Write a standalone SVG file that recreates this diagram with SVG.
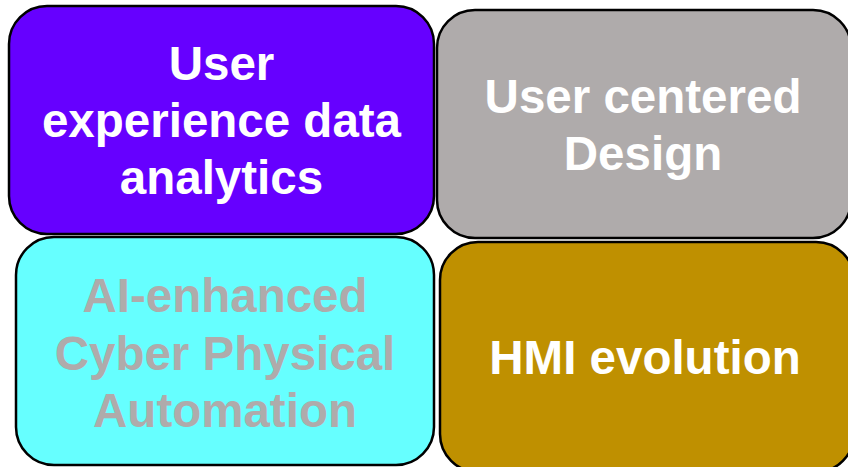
<svg xmlns="http://www.w3.org/2000/svg" width="848" height="467" viewBox="0 0 848 467">
<style>
.box{stroke:#000;stroke-width:2.5}
.t{font-family:"Liberation Sans",Arial,sans-serif;font-weight:bold;font-size:47.5px;text-anchor:middle}
.w{fill:#fff}
.g{fill:#AFABAB}
</style>
<rect width="848" height="467" fill="#fff"/>
<g id="node-ux-analytics">
<rect class="box" x="9" y="6" width="425" height="228" rx="38" fill="#6600FF"/>
<text class="t w" x="221.5" y="80">User</text>
<text class="t w" x="221.5" y="137">experience data</text>
<text class="t w" x="221.5" y="194">analytics</text>
</g>
<g id="node-ucd">
<rect class="box" x="437" y="10" width="414" height="228" rx="38" fill="#AFABAB"/>
<text class="t w" x="643" y="113">User centered</text>
<text class="t w" x="643" y="170">Design</text>
</g>
<g id="node-ai-cps">
<rect class="box" x="16" y="237" width="418" height="228" rx="38" fill="#66FFFF"/>
<text class="t g" x="225" y="312">AI-enhanced</text>
<text class="t g" x="225" y="370">Cyber Physical</text>
<text class="t g" x="225" y="427">Automation</text>
</g>
<g id="node-hmi">
<rect class="box" x="440" y="242" width="414" height="230" rx="38" fill="#BF9000"/>
<text class="t w" x="645" y="374">HMI evolution</text>
</g>
<g id="connectors"/>
</svg>
